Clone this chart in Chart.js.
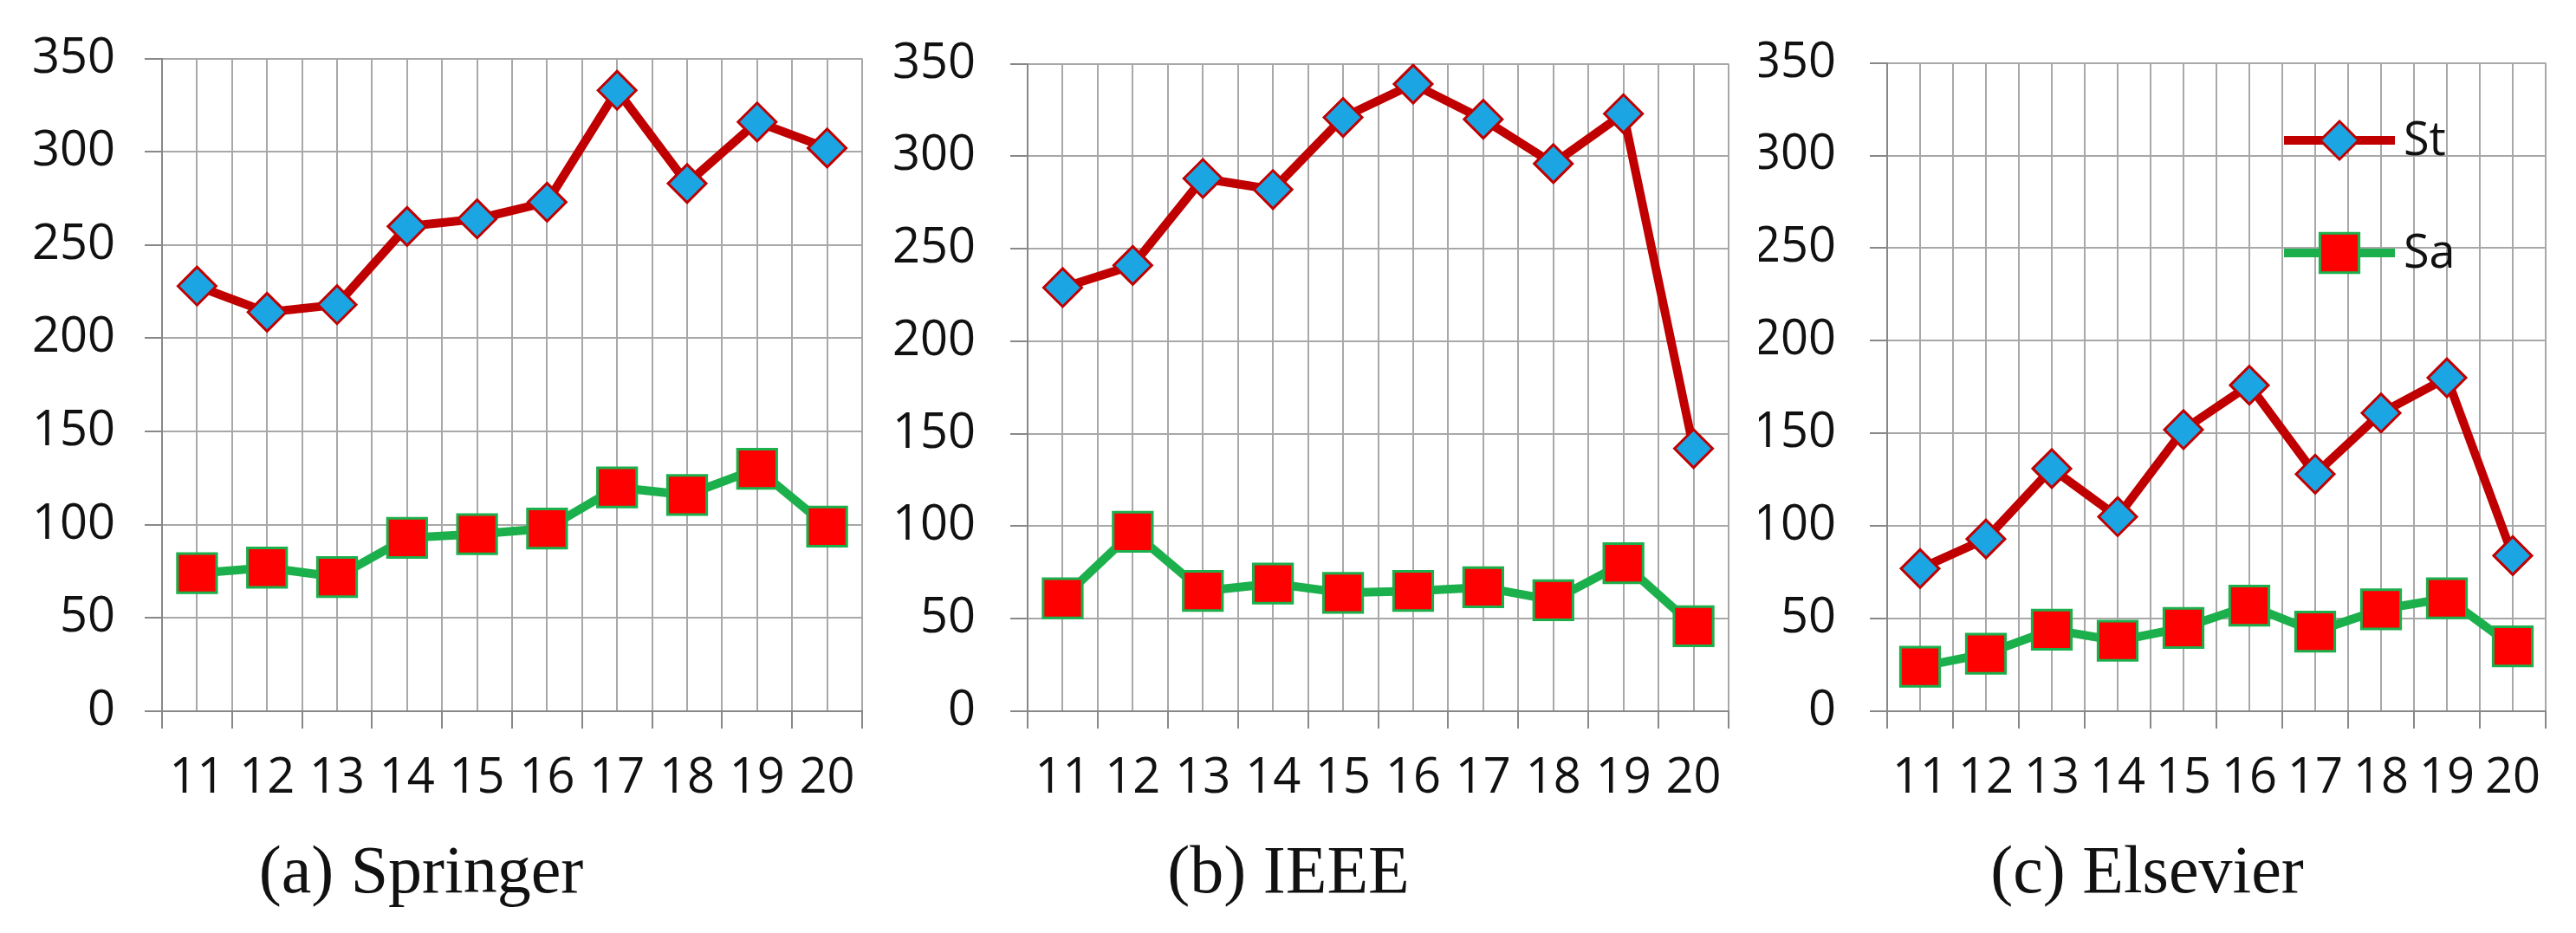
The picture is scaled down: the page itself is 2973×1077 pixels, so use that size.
<!DOCTYPE html>
<html>
<head>
<meta charset="utf-8">
<script src="https://cdn.jsdelivr.net/npm/chart.js@4/dist/chart.umd.min.js"></script>
<style>
  body { margin: 0; background: #fff; width: 2973px; height: 1077px; position: relative; overflow: hidden; }
  .panel { position: absolute; top: 0; height: 1077px; }
</style>
</head>
<body>
<div class="panel" style="left:0;width:1030px"><canvas id="chartA"></canvas></div>
<div class="panel" style="left:1030px;width:1000px"><canvas id="chartB"></canvas></div>
<div class="panel" style="left:2030px;width:943px"><canvas id="chartC"></canvas></div>
<script>
// Data
const years = [11, 12, 13, 14, 15, 16, 17, 18, 19, 20];
const yTicks = [0, 50, 100, 150, 200, 250, 300, 350];

const springerSt = [228, 214, 218, 260, 264, 273, 333, 283, 316, 302];
const springerSa = [74, 77, 72, 93, 95, 98, 120, 116, 130, 99];
const ieeeSt = [229, 241, 288, 282, 321, 339, 320, 296, 323, 142];
const ieeeSa = [61, 97, 65, 69, 64, 65, 67, 60, 80, 46];
const elsevierSt = [77, 93, 131, 105, 152, 176, 128, 161, 180, 84];
const elsevierSa = [24, 31, 44, 38, 45, 57, 43, 55, 61, 35];

const RED = '#c00000';
const BLUE = '#1ba6e3';
const GREEN = '#1cb04c';
const BRIGHT_RED = '#ff0000';
const GRID = '#a8a8a8';
const LABEL_FONT = "'Open Sans', 'Liberation Sans', sans-serif";

// Caption under each panel, plus the in-plot legend of panel (c)
const captionPlugin = {
  id: 'caption',
  afterDraw(chart, args, opts) {
    const ctx = chart.ctx;
    ctx.save();
    ctx.fillStyle = '#111';
    ctx.font = "78px 'Liberation Serif', serif";
    ctx.textAlign = 'center';
    ctx.textBaseline = 'middle';
    ctx.fillText(opts.text, opts.x, 1010);
    if (opts.legend) {
      chart.data.datasets.forEach((ds, i) => {
        const y = opts.legend.y[i];
        const x0 = opts.legend.x, x1 = x0 + 128;
        const cx = (x0 + x1) / 2;
        ctx.strokeStyle = ds.borderColor;
        ctx.lineWidth = 10;
        ctx.beginPath(); ctx.moveTo(x0, y); ctx.lineTo(x1, y); ctx.stroke();
        ctx.fillStyle = ds.pointBackgroundColor;
        ctx.strokeStyle = ds.pointBorderColor;
        ctx.lineWidth = ds.pointBorderWidth;
        ctx.beginPath();
        if (ds.pointStyle === 'rectRot') {
          const r = ds.pointRadius;
          ctx.moveTo(cx, y - r); ctx.lineTo(cx + r, y); ctx.lineTo(cx, y + r); ctx.lineTo(cx - r, y); ctx.closePath();
        } else {
          const s = ds.pointRadius * Math.SQRT1_2;
          ctx.rect(cx - s, y - s, 2 * s, 2 * s);
        }
        ctx.fill(); ctx.stroke();
        ctx.fillStyle = '#111';
        ctx.font = "54px " + LABEL_FONT;
        ctx.textAlign = 'left';
        ctx.fillText(ds.label, x1 + 10, y + 2);
      });
    }
    ctx.restore();
  }
};

function buildChart(id, st, sa, opts) {
  const toPoints = arr => arr.map((v, i) => ({ x: years[i], y: v }));
  return new Chart(document.getElementById(id), {
    type: 'line',
    data: {
      datasets: [
        {
          label: 'St', data: toPoints(st),
          borderColor: RED, borderWidth: 10,
          pointStyle: 'rectRot', pointRadius: 22, pointHoverRadius: 22,
          pointBackgroundColor: BLUE, pointBorderColor: RED, pointBorderWidth: 3
        },
        {
          label: 'Sa', data: toPoints(sa),
          borderColor: GREEN, borderWidth: 10,
          pointStyle: 'rect', pointRadius: 32, pointHoverRadius: 32,
          pointBackgroundColor: BRIGHT_RED, pointBorderColor: GREEN, pointBorderWidth: 3
        }
      ]
    },
    options: {
      responsive: true,
      maintainAspectRatio: false,
      animation: false,
      devicePixelRatio: 1,
      layout: { padding: { top: 63, right: opts.padRight, bottom: 0, left: 0 } },
      plugins: {
        legend: { display: false },
        tooltip: { enabled: false },
        caption: { text: opts.caption, x: opts.captionX, legend: opts.legend }
      },
      scales: {
        x: {
          type: 'linear', min: 10.5, max: 20.5,
          afterFit: s => { s.height = 1077 - 821; },
          afterBuildTicks: s => {
            const t = [];
            for (let v = 10.5; v <= 20.5001; v += 0.5) t.push({ value: v });
            s.ticks = t;
          },
          border: { color: '#888', width: 2 },
          grid: {
            color: GRID, lineWidth: 2, tickLength: 20,
            tickColor: c => (c.tick && Number.isInteger(c.tick.value)) ? 'rgba(0,0,0,0)' : '#888'
          },
          ticks: {
            autoSkip: false, maxRotation: 0, padding: 24, color: '#111',
            font: { family: LABEL_FONT, size: 56 },
            callback: v => years.includes(v) ? String(v) : ''
          }
        },
        y: {
          min: 0, max: 350,
          afterFit: s => { s.width = opts.left; },
          afterBuildTicks: s => { s.ticks = yTicks.map(v => ({ value: v })); },
          border: { color: '#888', width: 2 },
          grid: { color: GRID, lineWidth: 2, tickLength: 20, tickColor: '#888' },
          ticks: {
            padding: opts.yPad, color: '#111',
            font: { family: LABEL_FONT, size: 56 }
          }
        }
      }
    },
    plugins: [captionPlugin]
  });
}

buildChart('chartA', springerSt, springerSa, { left: 187, padRight: 26, yPad: 34, caption: '(a) Springer', captionX: 486 });
buildChart('chartB', ieeeSt, ieeeSa, { left: 156, padRight: 29, yPad: 40, caption: '(b) IEEE', captionX: 457 });
buildChart('chartC', elsevierSt, elsevierSa, {
  left: 148, padRight: 13, yPad: 39, caption: '(c) Elsevier', captionX: 448,
  legend: { x: 606, y: [162, 292] }
});
</script>
</body>
</html>
